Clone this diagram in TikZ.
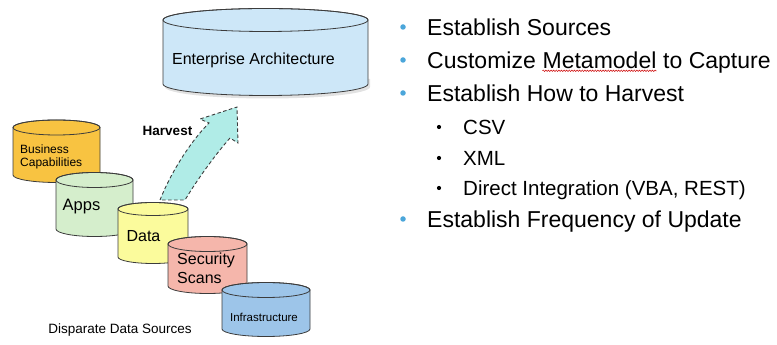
\documentclass[tikz,border=0pt]{standalone}
\usepackage{fontspec}
\setmainfont{Liberation Sans}
\usetikzlibrary{decorations.pathmorphing}
\definecolor{eaC}{HTML}{CDE7F8}
\definecolor{bcC}{HTML}{F8C341}
\definecolor{appsC}{HTML}{D5EECC}
\definecolor{dataC}{HTML}{FBFB9C}
\definecolor{secC}{HTML}{F5B6AB}
\definecolor{infC}{HTML}{9DC5E9}
\definecolor{arrC}{HTML}{B0ECE7}
\definecolor{edgeC}{HTML}{3C3C3C}
\definecolor{bulC}{HTML}{4BA6DA}
\newcommand{\mydrum}[6]{%
  \filldraw[drumline, fill=#6] ({#1-#2},#3) -- ({#1-#2},#4)
    arc[start angle=180, end angle=360, x radius=#2, y radius=#5]
    -- ({#1+#2},#3)
    arc[start angle=0, end angle=180, x radius=#2, y radius=#5] -- cycle;
  \draw[drumline] (#1,#3) ellipse[x radius=#2, y radius=#5];}
\tikzset{
  drumline/.style={draw=edgeC, line width=0.8pt},
  lbl/.style={inner sep=0pt, text=black},
  mainitem/.style={inner sep=0pt, anchor=base west, font=\fontsize{23}{27}\selectfont},
  subitem/.style={inner sep=0pt, anchor=base west, font=\fontsize{20.5}{24}\selectfont},
  mainbul/.style={fill=bulC, draw=none, circle, inner sep=0pt, minimum size=5.5pt},
  subbul/.style={fill=black, draw=none, circle, inner sep=0pt, minimum size=4.2pt},
}
\begin{document}
\begin{tikzpicture}[x=1pt, y=1pt]
\useasboundingbox (0,0) rectangle (777,345);
% Enterprise Architecture cylinder with soft shadow
\fill[gray!45, opacity=0.5] (165,266) -- (165,258) arc[start angle=180, end angle=360, x radius=102.5, y radius=11.5] -- (370,266) -- cycle;
\mydrum{265.5}{102.5}{325}{261}{11.5}{eaC}
\node[lbl, font=\fontsize{16}{18}\selectfont] (ea) at (253.5,285) {Enterprise Architecture};
% source cylinders
\mydrum{56.5}{43.5}{217.5}{170}{7.5}{bcC}
\node[lbl, anchor=west, align=left, font=\fontsize{12}{13}\selectfont] (bc) at (20,188) {Business\\Capabilities};
\mydrum{94.5}{38.5}{165}{116}{7.5}{appsC}
\node[lbl, font=\fontsize{16.5}{19}\selectfont] (apps) at (81.5,138) {Apps};
% Harvest arrow
\coordinate (aBL) at (160,145);
\coordinate (aBR) at (185,145);
\coordinate (aJL) at (209,222);
\coordinate (aWL) at (200,226);
\coordinate (aTip) at (237,238);
\coordinate (aWR) at (238,202);
\coordinate (aJR) at (230,207);
\filldraw[fill=arrC, draw=edgeC, line width=0.9pt, dash pattern=on 3.5pt off 2.5pt]
  (aBL) .. controls (172,175) and (192,205) .. (aJL) -- (aWL) -- (aTip) -- (aWR) -- (aJR)
  .. controls (215,190) and (197,165) .. (aBR) -- cycle;
\node[lbl, font=\fontsize{13.5}{15}\selectfont\bfseries] (harv) at (167.5,214) {Harvest};
\mydrum{153}{35}{136}{88}{6.5}{dataC}
\node[lbl, font=\fontsize{16}{19}\selectfont] (data) at (143.5,109) {Data};
\mydrum{207.5}{39.5}{101}{59}{7.5}{secC}
\node[lbl, anchor=west, align=left, font=\fontsize{16}{19}\selectfont] (sec) at (177,76.5) {Security\\Scans};
\mydrum{266}{44}{55}{16}{7.5}{infC}
\node[lbl, font=\fontsize{11.5}{13}\selectfont] (inf) at (264,28) {Infrastructure};
\node[lbl, font=\fontsize{13.5}{16}\selectfont] (disp) at (120,15) {Disparate Data Sources};
% bullet list
\node[mainbul] (b1) at (403,318) {};
\node[mainitem] (t1) at (427,309.7) {Establish Sources};
\node[mainbul] (b2) at (403,285) {};
\node[mainitem] (t2a) at (427,276.7) {Customize};
\node[mainitem] (t2b) at ([xshift=6.4pt]t2a.base east) {Metamodel};
\node[mainitem] (t2c) at ([xshift=6.4pt]t2b.base east) {to Capture};
\draw[red!80!black, line width=0.5pt, decorate, decoration={snake, amplitude=0.7pt, segment length=2.6pt}]
  ([yshift=-2.5pt]t2b.base west) -- ([yshift=-2.5pt]t2b.base east);
\node[mainbul] (b3) at (403,252) {};
\node[mainitem] (t3) at (427,243.7) {Establish How to Harvest};
\node[subbul] (s1) at (439,218) {};
\node[subitem] (u1) at (463,210.6) {CSV};
\node[subbul] (s2) at (439,187) {};
\node[subitem] (u2) at (463,179.6) {XML};
\node[subbul] (s3) at (439,157) {};
\node[subitem] (u3) at (463,149.6) {Direct Integration (VBA, REST)};
\node[mainbul] (b4) at (403,126) {};
\node[mainitem] (t4) at (427,117.7) {Establish Frequency of Update};
\end{tikzpicture}
\end{document}
